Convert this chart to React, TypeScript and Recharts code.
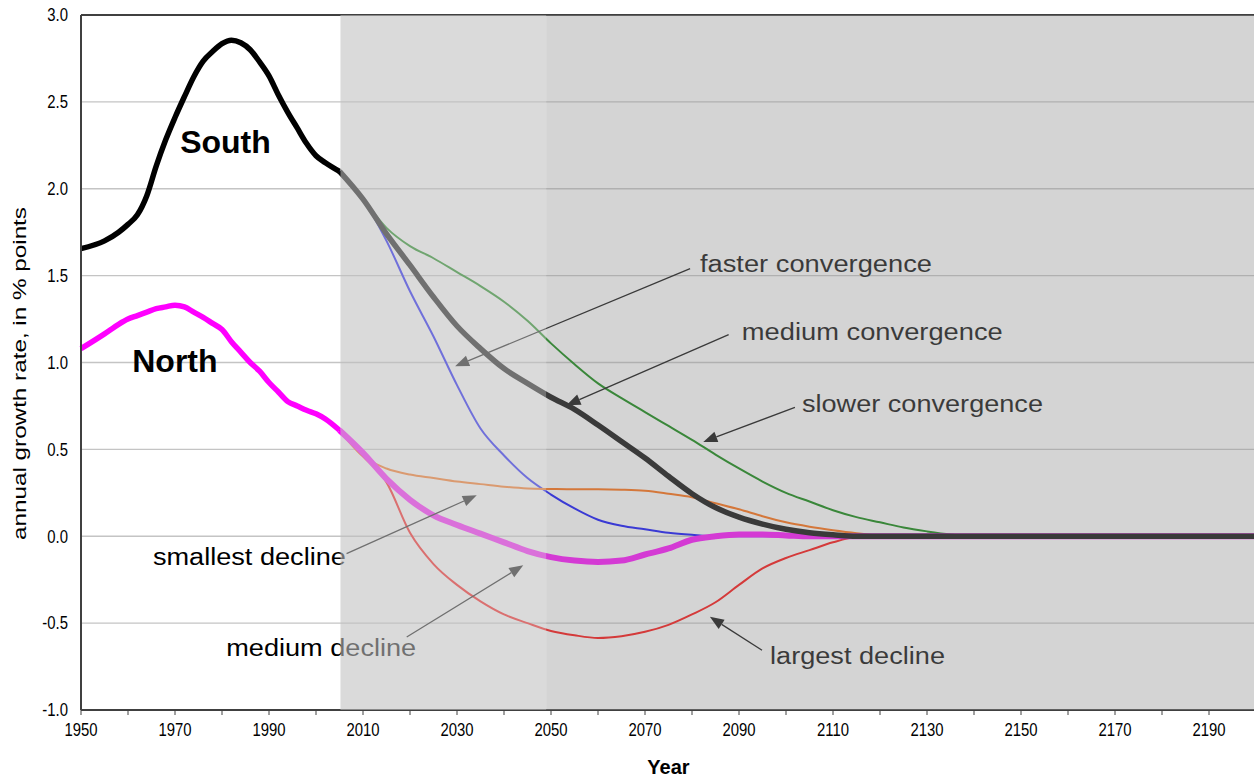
import React from 'react';
import {
  LineChart,
  Line,
  XAxis,
  YAxis,
  CartesianGrid,
  ReferenceArea,
  ReferenceLine,
  ReferenceDot,
  Label,
} from 'recharts';

// observed period
const histYears = [1950, 1955, 1958, 1960, 1962, 1964, 1966, 1968, 1970, 1972, 1974, 1976, 1978, 1980, 1982, 1984, 1986, 1988, 1990, 1992, 1994, 1996, 1998, 2000, 2002, 2005];
const southHist = [1.655, 1.7, 1.75, 1.795, 1.85, 1.96, 2.13, 2.28, 2.41, 2.53, 2.645, 2.735, 2.79, 2.835, 2.855, 2.84, 2.8, 2.73, 2.65, 2.54, 2.44, 2.35, 2.26, 2.19, 2.15, 2.1];
const northHist = [1.08, 1.165, 1.22, 1.25, 1.27, 1.29, 1.31, 1.32, 1.33, 1.32, 1.29, 1.26, 1.225, 1.19, 1.12, 1.06, 1.0, 0.95, 0.885, 0.83, 0.775, 0.75, 0.725, 0.705, 0.675, 0.61];

// projections
const projYears = [2005, 2010, 2015, 2020, 2025, 2030, 2035, 2040, 2045, 2050, 2055, 2060, 2065, 2070, 2075, 2080, 2085, 2090, 2095, 2100, 2105, 2110, 2115, 2120, 2125, 2130, 2135, 2140, 2160, 2180, 2200];
const fasterConv = [2.1, 1.94, 1.7, 1.41, 1.15, 0.87, 0.62, 0.465, 0.335, 0.24, 0.16, 0.095, 0.06, 0.04, 0.02, 0.008, 0, 0, 0, 0, 0, 0, 0, 0, 0, 0, 0, 0, 0, 0, 0];
const mediumConv = [2.1, 1.94, 1.74, 1.56, 1.377, 1.21, 1.08, 0.965, 0.88, 0.8, 0.73, 0.64, 0.545, 0.45, 0.345, 0.245, 0.165, 0.11, 0.07, 0.04, 0.02, 0.008, 0, 0, 0, 0, 0, 0, 0, 0, 0];
const slowerConv = [2.1, 1.94, 1.775, 1.67, 1.6, 1.52, 1.44, 1.35, 1.24, 1.11, 0.99, 0.88, 0.795, 0.715, 0.635, 0.555, 0.47, 0.39, 0.315, 0.25, 0.2, 0.15, 0.11, 0.08, 0.05, 0.028, 0.01, 0, 0, 0, 0];
const smallestDecline = [0.61, 0.46, 0.39, 0.355, 0.335, 0.315, 0.3, 0.285, 0.275, 0.272, 0.27, 0.27, 0.268, 0.262, 0.245, 0.225, 0.19, 0.155, 0.115, 0.08, 0.055, 0.035, 0.018, 0.005, 0, 0, 0, 0, 0, 0, 0];
const mediumDecline = [0.61, 0.48, 0.33, 0.21, 0.12, 0.065, 0.015, -0.035, -0.085, -0.12, -0.14, -0.148, -0.14, -0.105, -0.07, -0.02, 0, 0.01, 0.01, 0.005, 0, 0, 0, 0, 0, 0, 0, 0, 0, 0, 0];
const largestDecline = [0.61, 0.46, 0.31, 0.02, -0.16, -0.28, -0.375, -0.45, -0.5, -0.545, -0.57, -0.585, -0.575, -0.55, -0.51, -0.45, -0.38, -0.28, -0.185, -0.125, -0.08, -0.035, -0.005, 0, 0, 0, 0, 0, 0, 0, 0];

const xTicks = [1950, 1960, 1970, 1980, 1990, 2000, 2010, 2020, 2030, 2040, 2050, 2060, 2070, 2080, 2090, 2100, 2110, 2120, 2130, 2140, 2150, 2160, 2170, 2180, 2190, 2200];
const yTicks = [-1, -0.5, 0, 0.5, 1, 1.5, 2, 2.5, 3];

// projection start and the later shaded band
const projStart = 2005.2;
const laterStart = 2049;

const toPoints = (years: number[], values: number[]) =>
  years.map((year, i) => ({ year, value: values[i] }));

// text notes: x/y are in data units (left edge, vertical centre)
const notes = [
  { text: 'South', x: 1971.1, y: 2.27, size: 32, bold: true },
  { text: 'North', x: 1960.9, y: 1.013, size: 32, bold: true },
  { text: 'faster convergence', x: 2081.7, y: 1.57, size: 23, width: 232 },
  { text: 'medium convergence', x: 2090.6, y: 1.18, size: 23, width: 261 },
  { text: 'slower convergence', x: 2103.4, y: 0.765, size: 23, width: 241 },
  { text: 'smallest decline', x: 1965.3, y: -0.12, size: 23, width: 193 },
  { text: 'medium decline', x: 1980.9, y: -0.64, size: 23, width: 190 },
  { text: 'largest decline', x: 2096.6, y: -0.69, size: 23, width: 175 },
];

const arrows = [
  { from: [2079.6, 1.54], to: [2029.6, 0.978] },
  { from: [2087.8, 1.16], to: [2053.3, 0.754] },
  { from: [2101.9, 0.742], to: [2082.4, 0.543] },
  { from: [2006.5, -0.1], to: [2034.2, 0.236] },
  { from: [2019.3, -0.58], to: [2044.1, -0.167] },
  { from: [2094.9, -0.656], to: [2083.8, -0.464] },
];

const FONT = '"Liberation Sans", Arial, sans-serif';

const Arrow = (props: any) => {
  const { x1, y1, x2, y2 } = props;
  const ang = Math.atan2(y2 - y1, x2 - x1);
  const len = 14;
  const half = 5.5;
  const bx = x2 - len * Math.cos(ang);
  const by = y2 - len * Math.sin(ang);
  const px = -Math.sin(ang) * half;
  const py = Math.cos(ang) * half;
  return (
    <g>
      <line x1={x1} y1={y1} x2={bx} y2={by} stroke="#000" strokeWidth={1.3} />
      <polygon points={`${x2},${y2} ${bx + px},${by + py} ${bx - px},${by - py}`} fill="#000" />
    </g>
  );
};

const noteShape = (n: any) => (p: any) => (
  <text
    x={p.cx}
    y={p.cy}
    dy="0.36em"
    fontFamily={FONT}
    fontSize={n.size}
    fontWeight={n.bold ? 'bold' : 'normal'}
    fill="#000"
    textLength={n.width}
    lengthAdjust={n.width ? 'spacingAndGlyphs' : undefined}
  >
    {n.text}
  </text>
);

// tick labels in the source are tall and narrow
const XTick = (p: any) => {
  const v = p.payload.value;
  const show = (v - 1950) % 20 === 0 && v < 2200;
  if (!show) return null;
  return (
    <g transform={`translate(${p.x},${p.y})`}>
      <text transform="scale(0.85,1)" textAnchor="middle" dy="0.8em" fontFamily={FONT} fontSize={17.5} fill="#000">
        {v}
      </text>
    </g>
  );
};

const YTick = (p: any) => (
  <g transform={`translate(${p.x},${p.y})`}>
    <text transform="scale(0.85,1)" textAnchor="end" dy="0.36em" fontFamily={FONT} fontSize={17.5} fill="#000">
      {Number(p.payload.value).toFixed(1)}
    </text>
  </g>
);

const thin = [
  { name: 'slower', values: slowerConv, color: '#008000' },
  { name: 'faster', values: fasterConv, color: '#0000ff' },
  { name: 'smallest', values: smallestDecline, color: '#ff6600' },
  { name: 'largest', values: largestDecline, color: '#ff0000' },
];

export default function App() {
  return (
    <div style={{ position: 'absolute', left: 0, top: 0, width: 1254, height: 780, overflow: 'hidden', background: '#fff' }}>
      <LineChart
        width={1262}
        height={780}
        margin={{ top: 15, right: 6, bottom: 40, left: 0 }}
        style={{ fontFamily: FONT }}
      >
        <CartesianGrid vertical={false} stroke="#c4c4c4" strokeWidth={1.3} />
        <XAxis
          dataKey="year"
          type="number"
          domain={[1950, 2200]}
          ticks={xTicks}
          interval={0}
          height={30}
          tick={<XTick />}
          tickSize={5}
          tickMargin={7}
          axisLine={{ stroke: '#404040', strokeWidth: 2 }}
          tickLine={{ stroke: '#404040' }}
        >
          <Label
            content={({ viewBox }: any) => (
              <text
                x={viewBox.x + viewBox.width / 2}
                y={viewBox.y + 57}
                dy="0.36em"
                textAnchor="middle"
                fontFamily={FONT}
                fontSize={20}
                fontWeight="bold"
                fill="#000"
              >
                Year
              </text>
            )}
          />
        </XAxis>
        <YAxis
          type="number"
          domain={[-1, 3]}
          ticks={yTicks}
          width={81}
          tick={<YTick />}
          tickLine={false}
          tickSize={6}
          tickMargin={7}
          axisLine={{ stroke: '#404040', strokeWidth: 2 }}
        >
          <Label
            content={({ viewBox }: any) => {
              const cx = viewBox.x + 19;
              const cy = viewBox.y + viewBox.height / 2 + 11;
              return (
                <text
                  x={cx}
                  y={cy}
                  dy="0.36em"
                  textAnchor="middle"
                  transform={`rotate(-90 ${cx} ${cy})`}
                  fontFamily={FONT}
                  fontSize={19}
                  fill="#000"
                  textLength={333}
                  lengthAdjust="spacingAndGlyphs"
                >
                  annual growth rate, in % points
                </text>
              );
            }}
          />
        </YAxis>
        <ReferenceLine y={3} stroke="#404040" strokeWidth={2} />

        {thin.map((s) => (
          <Line
            key={s.name}
            data={toPoints(projYears, s.values)}
            dataKey="value"
            type="monotone"
            stroke={s.color}
            strokeWidth={2}
            dot={false}
            isAnimationActive={false}
          />
        ))}
        <Line
          data={toPoints(projYears, mediumDecline)}
          dataKey="value"
          type="monotone"
          stroke="#ff00ff"
          strokeWidth={6}
          dot={false}
          isAnimationActive={false}
        />
        <Line
          data={toPoints(projYears, mediumConv)}
          dataKey="value"
          type="monotone"
          stroke="#000000"
          strokeWidth={5.5}
          dot={false}
          isAnimationActive={false}
        />
        <Line
          data={toPoints(histYears, northHist)}
          dataKey="value"
          type="monotone"
          stroke="#ff00ff"
          strokeWidth={5.5}
          dot={false}
          isAnimationActive={false}
        />
        <Line
          data={toPoints(histYears, southHist)}
          dataKey="value"
          type="monotone"
          stroke="#000000"
          strokeWidth={5.5}
          dot={false}
          isAnimationActive={false}
        />

        {arrows.map((a, i) => (
          <ReferenceLine
            key={`arrow-${i}`}
            segment={[
              { x: a.from[0], y: a.from[1] },
              { x: a.to[0], y: a.to[1] },
            ]}
            shape={Arrow}
            zIndex={700}
          />
        ))}
        {notes.map((n) => (
          <ReferenceDot key={n.text} x={n.x} y={n.y} r={0} shape={noteShape(n)} zIndex={700} />
        ))}

        {/* shading for the projection period sits on top of everything */}
        <ReferenceArea x1={projStart} x2={laterStart} y1={-1} y2={3} fill="#c0c0c0" fillOpacity={0.584} stroke="none" zIndex={900} />
        <ReferenceArea x1={laterStart} x2={2200} y1={-1} y2={3} fill="#929292" fillOpacity={0.396} stroke="none" zIndex={900} />
      </LineChart>
    </div>
  );
}
